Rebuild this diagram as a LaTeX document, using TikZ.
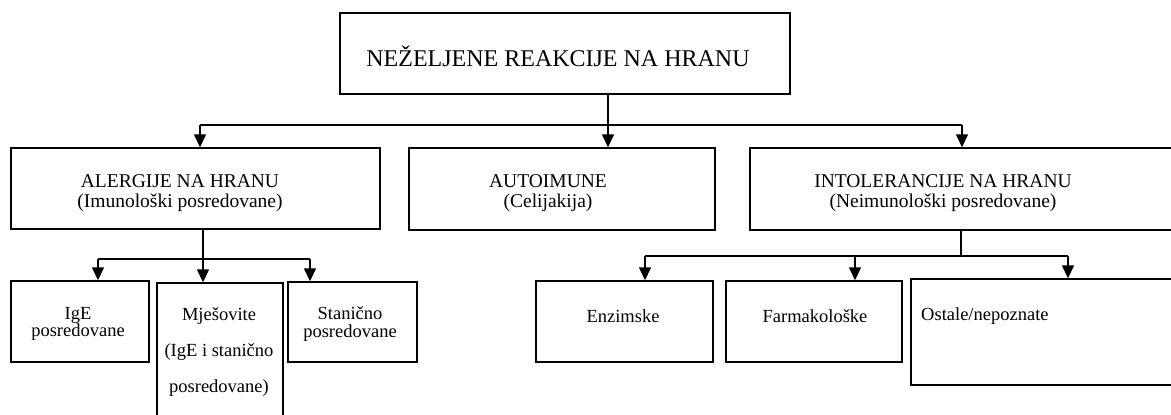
\documentclass[tikz,border=0pt]{standalone}
\usepackage{fontspec}
\setmainfont{Liberation Serif}
\usetikzlibrary{arrows.meta}
\begin{document}
\begin{tikzpicture}[x=1pt,y=-1pt,
		box/.style={draw,line width=1.4pt,inner sep=0pt},
		top/.style={inner sep=0pt,font=\fontsize{24}{26}\selectfont},
		lbl/.style={align=center,inner sep=0pt,font=\fontsize{19.5}{20}\selectfont},
		sub/.style={align=center,inner sep=0pt,font=\fontsize{18.5}{17.5}\selectfont},
		link/.style={line width=1.4pt},
		arr/.style={-{Triangle[width=12pt,length=13pt]},line width=1.4pt}]
	\useasboundingbox (0,0) rectangle (1171,415);
	\clip (0,0) rectangle (1171,415);
	\node[box,minimum width=450pt,minimum height=81pt] (nez) at (565,53.5) {};
	\node[top] (neztxt) at (558,56) {NEŽELJENE REAKCIJE NA HRANU};
	\node[box,minimum width=369pt,minimum height=81pt] (alerg) at (195.5,188.5) {};
	\node[lbl] (alergtxt) at (180,193) {ALERGIJE NA HRANU\\(Imunološki posredovane)};
	\node[box,minimum width=306pt,minimum height=82pt] (auto) at (562,189) {};
	\node[lbl] (autotxt) at (548,193) {AUTOIMUNE\\(Celijakija)};
	\node[box,minimum width=450pt,minimum height=82pt] (intol) at (975,189) {};
	\node[lbl] (intoltxt) at (943,193) {INTOLERANCIJE NA HRANU\\(Neimunološki posredovane)};
	\node[box,minimum width=138pt,minimum height=81pt] (ige) at (80,321.5) {};
	\node[sub] (igetxt) at (78,324) {IgE\\posredovane};
	\node[box,minimum width=126pt,minimum height=157pt] (mjes) at (220,361.5) {};
	\node[sub,font=\fontsize{18.5}{36}\selectfont] (mjestxt) at (219,352) {Mješovite\\(IgE i stanično\\posredovane)};
	\node[box,minimum width=129pt,minimum height=80pt] (stan) at (352.5,322) {};
	\node[sub] (stantxt) at (350,324) {Stanično\\posredovane};
	\node[box,minimum width=177pt,minimum height=81pt] (enz) at (624.5,321.5) {};
	\node[sub] (enztxt) at (623,316) {Enzimske};
	\node[box,minimum width=176pt,minimum height=81pt] (farm) at (814,321.5) {};
	\node[sub] (farmtxt) at (815,316) {Farmakološke};
	\node[box,minimum width=289pt,minimum height=106pt] (ost) at (1055.5,332) {};
	\node[sub,anchor=west] (osttxt) at (921,316) {Ostale/nepoznate};
	\coordinate (ja) at (200,125);
	\coordinate (jm) at (608,125);
	\coordinate (ji) at (962,125);
	\draw[link] (jm |- nez.south) -- (jm);
	\draw[link] (ja) -- (ji);
	\draw[arr] (ja) -- (ja |- alerg.north);
	\draw[arr] (jm) -- (jm |- auto.north);
	\draw[arr] (ji) -- (ji |- intol.north);
	\coordinate (ka) at (203,259);
	\coordinate (k1) at (98,259);
	\coordinate (k3) at (310,259);
	\draw[link] (ka |- alerg.south) -- (ka);
	\draw[link] (k1) -- (k3);
	\draw[arr] (k1) -- (k1 |- ige.north);
	\draw[arr] (ka) -- (ka |- mjes.north);
	\draw[arr] (k3) -- (k3 |- stan.north);
	\coordinate (ki) at (961,256);
	\coordinate (k4) at (645,256);
	\coordinate (k5) at (855,256);
	\coordinate (k6) at (1068,256);
	\draw[link] (ki |- intol.south) -- (ki);
	\draw[link] (k4) -- (k6);
	\draw[arr] (k4) -- (k4 |- enz.north);
	\draw[arr] (k5) -- (k5 |- farm.north);
	\draw[arr] (k6) -- (k6 |- ost.north);
\end{tikzpicture}
\end{document}
